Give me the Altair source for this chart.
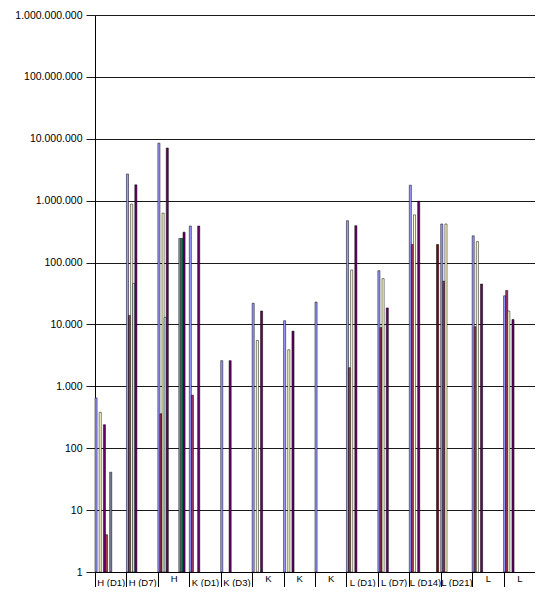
import altair as alt
import pandas as pd

# Categories (x) – ids keep duplicates apart, labels are what is shown
cat_ids = ["00", "01", "02", "03", "04", "05", "06", "07", "08", "09", "10", "11", "12", "13"]
label_text = ["H (D1)", "H (D7)", "H", "K (D1)", "K (D3)", "K", "K", "K",
              "L (D1)", "L (D7)", "L (D14)", "L (D21)", "L", "L"]
# the short labels sit a little higher in the reference (first line of a two-line label)
raised = [False, False, True, False, False, True, True, True,
          False, False, False, False, True, True]

# Series (slots inside each category) and their colours
series_names = ["S0", "S1", "S2", "S3", "S4", "S5", "S6", "S7",
                "S8", "S9", "S10", "S11", "S12", "S13", "S14"]
series_colors = ["#9999FF", "#993366", "#FFFFCC", "#CCFFFF", "#660066", "#A0404A",
                 "#0066CC", "#7F7F9F", "#000080", "#FF00FF", "#999999", "#00A070",
                 "#660066", "#800000", "#008080"]

N = None
values = {
    "S0":  [650, 2700000, 8500000, 390000, 2600, 22000, 11500, 23000, 475000, 74000, 1780000, 420000, 270000, 29000],
    "S1":  [N, 14000, 360, 720, N, N, N, N, 2000, 8900, 196000, 50000, 9200, 35500],
    "S2":  [380, 880000, 630000, N, N, 5500, 3900, N, 76000, 55000, 590000, 420000, 218000, 16500],
    "S3":  [N, 46000, 13000, N, N, N, N, N, N, N, N, N, N, N],
    "S4":  [240, 1800000, 7100000, 390000, 2600, 16500, 7800, N, 395000, 18500, 980000, N, 45000, 12000],
    "S5":  [4, N, N, N, N, N, N, N, N, N, N, N, N, N],
    "S7":  [41, N, N, N, N, N, N, N, N, N, N, N, N, N],
    "S10": [N, N, 245000, N, N, N, N, N, N, N, N, N, N, N],
    "S11": [N, N, 245000, N, N, N, N, N, N, N, N, N, N, N],
    "S12": [N, N, 310000, N, N, N, N, N, N, N, N, N, N, N],
    "S13": [N, N, N, N, N, N, N, N, N, N, 196000, N, N, N],
}

y_ticks = [1, 10, 100, 1000, 10000, 100000, 1000000, 10000000, 100000000, 1000000000]

rows = []
for s, vals in values.items():
    for cid, v in zip(cat_ids, vals):
        if v is not None:
            rows.append({"cat": cid, "series": s, "value": v})
df = pd.DataFrame(rows)

# label expression for the category axis (a blank first line pushes a label down)
lab_items = []
for a, r in zip(label_text, raised):
    if r:
        lab_items.append("['%s']" % a)
    else:
        lab_items.append("[' ','%s']" % a)
x_label_expr = "[" + ",".join(lab_items) + "][toNumber(datum.value)]"

y_label_expr = ("replace(replace(replace(format(datum.value, ','), ',', '.'), ',', '.'), ',', '.')")

FONT = "Liberation Sans"

chart = alt.Chart(df).mark_bar(stroke="#000000", strokeWidth=0.5).encode(
    x=alt.X("cat:N", sort=cat_ids,
            scale=alt.Scale(domain=cat_ids, paddingInner=0, paddingOuter=0),
            axis=alt.Axis(title=None, tickBand="extent", tickSize=20, tickColor="#000000",
                          domainColor="#000000", labelAngle=0, labelBaseline="middle",
                          labelPadding=-14, labelFontSize=9.5, labelFont=FONT,
                          labelColor="#000000", labelLineHeight=4, labelOverlap=False,
                          labelExpr=x_label_expr)),
    xOffset=alt.XOffset("series:N",
                        scale=alt.Scale(domain=series_names, paddingInner=0, paddingOuter=0)),
    y=alt.Y("value:Q",
            scale=alt.Scale(type="log", domain=[1, 1000000000], nice=False),
            axis=alt.Axis(title=None, values=y_ticks, labelExpr=y_label_expr, grid=True,
                          gridColor="#1a1a1a", gridWidth=1, tickColor="#1a1a1a", tickSize=9,
                          labelPadding=4, domainColor="#000000", labelFontSize=10.5,
                          labelFont=FONT, labelColor="#000000")),
    y2=alt.datum(1),
    color=alt.Color("series:N", scale=alt.Scale(domain=series_names, range=series_colors),
                    legend=None),
).properties(
    width=440,
    height=557,
    autosize=alt.AutoSizeParams(type="none"),
    padding={"left": 87, "top": 7, "right": 0, "bottom": 15},
).configure_view(strokeWidth=0).configure(background="#ffffff")

chart.save("out.html", embed_options={"renderer": "svg", "actions": False})
